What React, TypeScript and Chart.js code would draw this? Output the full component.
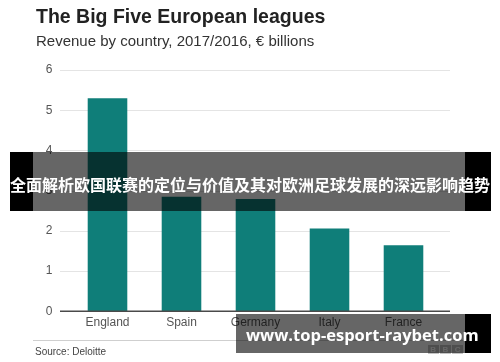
import React, { useEffect, useRef } from "react";
import { Chart, registerables } from "chart.js";

Chart.register(...registerables);

// ---- data ----
const countries = ["England", "Spain", "Germany", "Italy", "France"];
const revenue = [5.3, 2.85, 2.79, 2.06, 1.64];
const yTicks = [0, 1, 2, 3, 4, 5, 6];
const titleText = "The Big Five European leagues";
const subtitleText = "Revenue by country, 2017/2016, € billions";
const sourceText = "Source: Deloitte";
const bannerText = "全面解析欧国联赛的定位与价值及其对欧洲足球发展的深远影响趋势";
const watermarkText = "www.top-esport-raybet.com";
const logoLetters = ["B", "B", "C"];

const SANS = '"Liberation Sans", Arial, Helvetica, sans-serif';
const TEAL = "#0f7e79";

const gridPlugin = {
  id: "extendedGrid",
  beforeDatasetsDraw(chart: any) {
    const { ctx, chartArea, scales } = chart;
    const y = scales.y;
    const x0 = chartArea.left - 10.5;
    const x1 = chartArea.right + 9.5;
    ctx.save();
    ctx.strokeStyle = "#e4e4e4";
    ctx.lineWidth = 1;
    yTicks.forEach((v) => {
      if (v === 0) return;
      const py = Math.round(y.getPixelForValue(v)) + 0.5;
      ctx.beginPath();
      ctx.moveTo(x0, py);
      ctx.lineTo(x1, py);
      ctx.stroke();
    });
    ctx.restore();
  },
  afterDatasetsDraw(chart: any) {
    const { ctx, chartArea, scales } = chart;
    const y = scales.y;
    const x0 = chartArea.left - 10.5;
    const x1 = chartArea.right + 9.5;
    const py = y.getPixelForValue(0);
    ctx.save();
    ctx.strokeStyle = "#4a4a4a";
    ctx.lineWidth = 1.5;
    ctx.beginPath();
    ctx.moveTo(x0, py);
    ctx.lineTo(x1, py);
    ctx.stroke();
    ctx.restore();
  },
};

export default function App() {
  const canvasRef = useRef<HTMLCanvasElement | null>(null);

  useEffect(() => {
    if (!canvasRef.current) return;
    const chart = new Chart(canvasRef.current, {
      type: "bar",
      data: {
        labels: countries,
        datasets: [
          {
            data: revenue,
            backgroundColor: TEAL,
            borderWidth: 0,
            barPercentage: 0.535,
            categoryPercentage: 1,
          },
        ],
      },
      options: {
        responsive: false,
        animation: false,
        devicePixelRatio: 1,
        layout: { padding: { left: 45.5, right: 59.5, top: 70, bottom: 32.3 } },
        plugins: {
          legend: { display: false },
          tooltip: { enabled: false },
          title: { display: false },
        },
        scales: {
          x: {
            grid: { display: false, drawTicks: false },
            border: { display: false },
            ticks: {
              color: "#555",
              font: { size: 12, family: SANS },
              padding: 4,
              maxRotation: 0,
            },
            afterFit: (s: any) => {
              s.height = 18.4;
              s.paddingLeft = 0;
              s.paddingRight = 0;
            },
          },
          y: {
            min: 0,
            max: 6,
            grid: { display: false, drawTicks: false },
            border: { display: false },
            ticks: {
              stepSize: 1,
              color: "#555",
              font: { size: 12, family: SANS },
              padding: 18,
            },
            afterFit: (s: any) => {
              s.width = 25;
              s.paddingTop = 0;
              s.paddingBottom = 0;
            },
          },
        },
      },
      plugins: [gridPlugin],
    });
    return () => chart.destroy();
  }, []);

  const abs = (s: React.CSSProperties): React.CSSProperties => ({
    position: "absolute",
    margin: 0,
    whiteSpace: "nowrap",
    ...s,
  });

  return (
    <div
      style={{
        position: "fixed",
        left: 0,
        top: 0,
        width: 500,
        height: 362,
        background: "#fff",
        overflow: "hidden",
      }}
    >
      <canvas
        ref={canvasRef}
        width={500}
        height={362}
        style={{ position: "absolute", left: 0, top: 0, width: 500, height: 362 }}
      />
      <div
        style={abs({
          left: 36,
          top: 6.8,
          fontFamily: SANS,
          fontWeight: 700,
          fontSize: 19.5,
          lineHeight: "19.5px",
          color: "#222",
        })}
      >
        {titleText}
      </div>
      <div
        style={abs({
          left: 36,
          top: 33,
          fontFamily: SANS,
          fontSize: 15,
          lineHeight: "15px",
          color: "#333",
        })}
      >
        {subtitleText}
      </div>
      {/* source separator */}
      <div style={abs({ left: 33, top: 340, width: 432, height: 1, background: "#cfcfcf" })} />
      <div
        style={abs({
          left: 35,
          top: 346.5,
          fontFamily: SANS,
          fontSize: 10,
          lineHeight: "10px",
          color: "#444",
        })}
      >
        {sourceText}
      </div>
      {/* BBC logo */}
      {logoLetters.map((l, i) => (
        <div
          key={i}
          style={abs({
            left: 428 + i * 12.2,
            top: 345,
            width: 10.5,
            height: 9,
            background: "#c4c4c4",
            color: "#fff",
            fontFamily: SANS,
            fontWeight: 700,
            fontSize: 8,
            lineHeight: "9px",
            textAlign: "center",
          })}
        >
          {l}
        </div>
      ))}
      {/* Chinese banner */}
      <div style={abs({ left: 10, top: 152, width: 23, height: 59, background: "#000" })} />
      <div style={abs({ left: 33, top: 152, width: 432, height: 59, background: "rgba(0,0,0,0.6)" })} />
      <div style={abs({ left: 465, top: 152, width: 26, height: 59, background: "#000" })} />
      <div
        style={abs({
          left: 0,
          top: 176,
          width: 500,
          textAlign: "center",
          fontFamily: '"Noto Sans CJK SC", sans-serif',
          fontWeight: 700,
          fontSize: 16,
          lineHeight: "16px",
          color: "#fff",
        })}
      >
        {bannerText}
      </div>
      {/* watermark */}
      <div style={abs({ left: 236, top: 314, width: 229, height: 39, background: "rgba(0,0,0,0.6)" })} />
      <div style={abs({ left: 465, top: 314, width: 26, height: 39, background: "#000" })} />
      <div
        style={abs({
          left: 246,
          top: 327.2,
          fontFamily: '"Open Sans", sans-serif',
          fontWeight: 700,
          fontSize: 16.5,
          lineHeight: "16.5px",
          color: "#fff",
        })}
      >
        {watermarkText}
      </div>
    </div>
  );
}
